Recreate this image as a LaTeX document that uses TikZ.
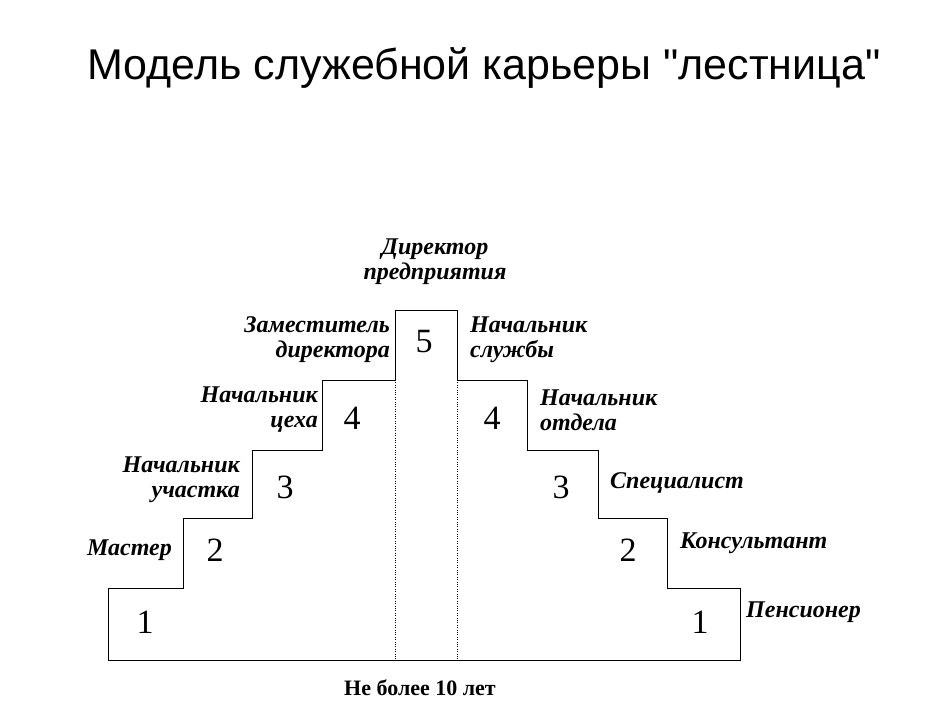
\documentclass[tikz,border=0pt]{standalone}
\usepackage{fontspec}
\setmainfont{Liberation Serif}
\newfontfamily\titlefont{Liberation Sans}
\begin{document}
\begin{tikzpicture}[x=1pt,y=-1pt,
    post/.style={font=\fontsize{24}{25}\selectfont\bfseries\itshape, align=center, inner sep=0pt},
    postl/.style={post, align=right, anchor=east},
    postr/.style={post, align=left, anchor=west},
    num/.style={font=\fontsize{34}{34}\selectfont}]
    \useasboundingbox (0,0) rectangle (940,711);
    % Заголовок
    \node[font=\titlefont\fontsize{43}{45}\selectfont] (title) at (484,68) {Модель служебной карьеры "лестница"};
    % Лестница
    \draw[thick] (108,660) -- (108,588) -- (183,588) -- (183,518) -- (252,518) -- (252,450)
        -- (322,450) -- (322,380) -- (395,380) -- (395,310) -- (457,310) -- (457,380)
        -- (527,380) -- (527,450) -- (598,450) -- (598,518) -- (667,518) -- (667,588)
        -- (740,588) -- (740,660) -- cycle;
    \draw[dotted] (395,380) -- (395,660);
    \draw[dotted] (457,380) -- (457,660);
    % Номера ступеней
    \node[num] (l1) at (145,622) {1};
    \node[num] (l2) at (215,550) {2};
    \node[num] (l3) at (285,487) {3};
    \node[num] (l4) at (352,418) {4};
    \node[num] (top) at (424,342) {5};
    \node[num] (r4) at (492,418) {4};
    \node[num] (r3) at (561,487) {3};
    \node[num] (r2) at (628,550) {2};
    \node[num] (r1) at (700,622) {1};
    % Должности
    \node[post] (dir) at (435,262) {Директор\\предприятия};
    \node[postl] (zam) at (390,340) {Заместитель\\директора};
    \node[postr] (sluzh) at (470,340) {Начальник\\службы};
    \node[postl] (ceh) at (318,410) {Начальник\\цеха};
    \node[postr] (otdel) at (540,410) {Начальник\\отдела};
    \node[postl] (uch) at (240,480) {Начальник\\участка};
    \node[postr] (spec) at (610,483) {Специалист};
    \node[postl] (master) at (172,550) {Мастер};
    \node[postr] (kons) at (680,543) {Консультант};
    \node[postr] (pens) at (746,612) {Пенсионер};
    \node[font=\fontsize{22}{24}\selectfont\bfseries] (srok) at (420,688) {Не более 10 лет};
\end{tikzpicture}
\end{document}
